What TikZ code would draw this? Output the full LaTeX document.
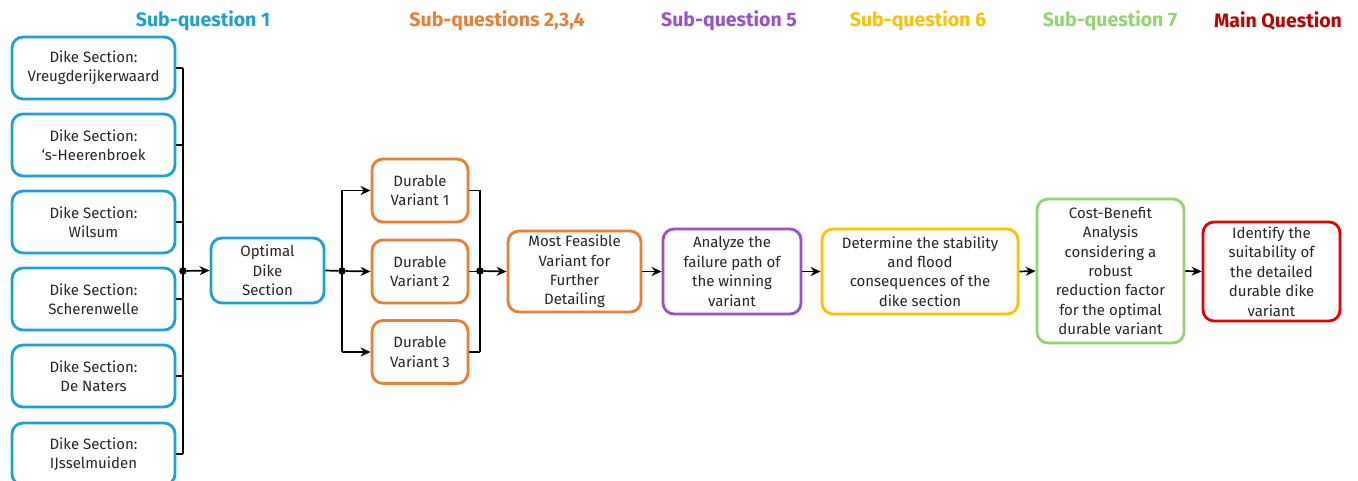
\documentclass[tikz,border=0pt]{standalone}
\usepackage{fontspec}
\setmainfont{Fira Sans}
\usetikzlibrary{arrows.meta}
\definecolor{cblue}{HTML}{1BA1DA}
\definecolor{corange}{HTML}{ED7D31}
\definecolor{cpurple}{HTML}{9A4FCF}
\definecolor{cyellow}{HTML}{FFC000}
\definecolor{cgreen}{HTML}{92D46E}
\definecolor{cred}{HTML}{E60000}
\definecolor{cdred}{HTML}{C00000}
\tikzset{
  box/.style={draw, line width=2.8pt, rounded corners=11pt, fill=white, align=center,
    inner sep=2pt, font=\fontsize{15}{19.4}\selectfont, text=black!85},
  hdr/.style={font=\fontsize{19.5}{22}\selectfont\bfseries, anchor=center},
  conn/.style={line width=1.7pt, black},
  arr/.style={conn, -{Stealth[length=10pt,width=9pt]}},
  dot/.style={circle, fill=black, inner sep=0pt, minimum size=7.5pt},
}
\begin{document}
\begin{tikzpicture}[x=1pt,y=-1pt]
\useasboundingbox (0,0) rectangle (1358,481);
% headers
\node[hdr, text=cblue] (h1) at (203,21) {Sub-question 1};
\node[hdr, text=corange] (h2) at (497,21) {Sub-questions 2,3,4};
\node[hdr, text=cpurple] (h3) at (729,21) {Sub-question 5};
\node[hdr, text=cyellow] (h4) at (918,21) {Sub-question 6};
\node[hdr, text=cgreen] (h5) at (1110,21) {Sub-question 7};
\node[hdr, text=cdred] (h6) at (1278,21) {Main Question};
% left column
\foreach \n/\y/\t in {b1/68/Vreugderijkerwaard, b2/145/{‘s-Heerenbroek}, b3/222/Wilsum, b4/299/Scherenwelle, b5/376/De Naters, b6/454/IJsselmuiden}{
  \node[box, draw=cblue, minimum width=163pt, minimum height=62pt] (\n) at (93.5,\y) {Dike Section:\\\t};
}
\coordinate (j1) at (183,271);
\foreach \n in {b1,b2,b3,b4,b5,b6}{ \draw[conn] (\n.east) -- (\n.east -| j1); }
\draw[conn] (b1.east -| j1) -- (b6.east -| j1);
\node[dot] (d1) at (j1) {};
\node[box, draw=cblue, minimum width=113pt, minimum height=65pt] (opt) at (267.5,270.5) {Optimal\\Dike\\Section};
\draw[arr] (d1) -- (opt.west);
% variants
\node[box, draw=corange, minimum width=96pt, minimum height=63pt] (v1) at (420,190.5) {Durable\\Variant 1};
\node[box, draw=corange, minimum width=96pt, minimum height=63pt] (v2) at (420,271.5) {Durable\\Variant 2};
\node[box, draw=corange, minimum width=96pt, minimum height=63pt] (v3) at (420,352) {Durable\\Variant 3};
\coordinate (j2) at (342,271);
\node[dot] (d2) at (j2) {};
\draw[conn] (opt.east) -- (d2);
\draw[conn] (v1.west -| j2) -- (v3.west -| j2);
\draw[arr] (v1.west -| j2) -- (v1.west);
\draw[arr] (d2) -- (v2.west);
\draw[arr] (v3.west -| j2) -- (v3.west);
\coordinate (j3) at (480,271);
\foreach \n in {v1,v2,v3}{ \draw[conn] (\n.east) -- (\n.east -| j3); }
\draw[conn] (v1.east -| j3) -- (v3.east -| j3);
\node[dot] (d3) at (j3) {};
% chain
\node[box, draw=corange, minimum width=133pt, minimum height=81pt] (mf) at (574.5,271.5) {Most Feasible\\Variant for\\Further\\Detailing};
\draw[arr] (d3) -- (mf.west);
\node[box, draw=cpurple, minimum width=138pt, minimum height=85pt] (an) at (732,271.5) {Analyze the\\failure path of\\the winning\\variant};
\draw[arr] (mf.east) -- (an.west);
\node[box, draw=cyellow, minimum width=196pt, minimum height=85pt] (de) at (920,271.5) {Determine the stability\\and flood\\consequences of the\\dike section};
\draw[arr] (an.east) -- (de.west);
\node[box, draw=cgreen, minimum width=147pt, minimum height=144pt] (cb) at (1110.5,271) {Cost-Benefit\\Analysis\\considering a\\robust\\reduction factor\\for the optimal\\durable variant};
\draw[arr] (de.east) -- (cb.west);
\node[box, draw=cred, minimum width=137pt, minimum height=99pt] (id) at (1271.5,271.5) {Identify the\\suitability of\\the detailed\\durable dike\\variant};
\draw[arr] (cb.east) -- (id.west);
\end{tikzpicture}
\end{document}
